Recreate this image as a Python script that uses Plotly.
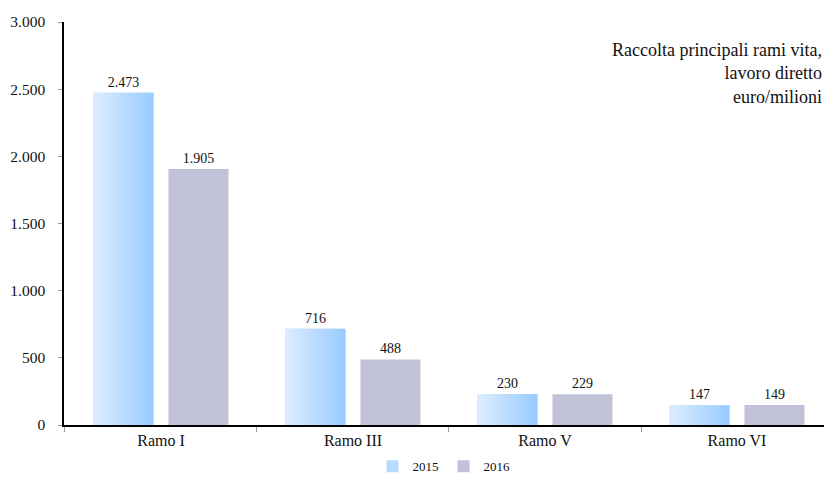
import plotly.graph_objects as go

categories = ["Ramo I", "Ramo III", "Ramo V", "Ramo VI"]
values_2015 = [2473, 716, 230, 147]
values_2016 = [1905, 488, 229, 149]
series_names = ["2015", "2016"]
y_ticks = [0, 500, 1000, 1500, 2000, 2500, 3000]
note_lines = ["Raccolta principali rami vita,", "lavoro diretto", "euro/milioni"]

FONT = "Liberation Serif"
PX_PER_CAT = 192.0
BAR_W = 60 / PX_PER_CAT
OFF_2015 = -67.5 / PX_PER_CAT
OFF_2016 = 7.5 / PX_PER_CAT

c_left = (220, 236, 255)
c_right = (153, 204, 255)
c_2016 = "#c1c1d7"

fig = go.Figure()

fig.add_trace(go.Bar(
    x=categories, y=values_2015, name=series_names[0],
    offset=OFF_2015, width=BAR_W,
    marker=dict(color="rgb(184,219,255)", line=dict(width=0)),
    texttemplate="%{y:,d}", textposition="outside",
    textfont=dict(family=FONT, size=14, color="#111"),
    cliponaxis=False,
))

N = 30
sw = BAR_W / N
for i in range(N):
    t = i / (N - 1)
    col = "rgb(%d,%d,%d)" % tuple(round(a + (b - a) * t) for a, b in zip(c_left, c_right))
    fig.add_trace(go.Bar(
        x=categories, y=values_2015, showlegend=False, hoverinfo="skip",
        offset=OFF_2015 + i * sw, width=sw * 1.4 if i < N - 1 else sw,
        marker=dict(color=col, line=dict(width=0)),
    ))

fig.add_trace(go.Bar(
    x=categories, y=values_2016, name=series_names[1],
    offset=OFF_2016, width=BAR_W,
    marker=dict(color=c_2016, line=dict(width=0)),
    texttemplate="%{y:,d}", textposition="outside",
    textfont=dict(family=FONT, size=14, color="#111"),
    cliponaxis=False,
))

fig.add_annotation(
    xref="paper", yref="paper", x=1.0, y=0.96, xanchor="right", yanchor="top",
    text="<br>".join(note_lines), align="right", showarrow=False,
    font=dict(family=FONT, size=18, color="#111"),
)

fig.update_layout(
    width=824, height=500,
    margin=dict(l=64, r=0, t=22, b=75),
    paper_bgcolor="white", plot_bgcolor="white",
    barmode="overlay",
    separators=",.",
    font=dict(family=FONT, color="#111"),
    showlegend=True,
    legend=dict(orientation="h", x=0.5, xanchor="center", y=-0.065, yanchor="top",
                font=dict(family=FONT, size=13, color="#111"),
                itemwidth=30, traceorder="normal"),
    xaxis=dict(
        range=[-0.505, 3.453], showgrid=False, showline=True, linecolor="black", linewidth=1.5,
        ticks="outside", tickson="boundaries", ticklen=5, tickcolor="#999",
        tickfont=dict(family=FONT, size=16, color="#111"), fixedrange=True,
    ),
    yaxis=dict(
        range=[0, 3000], tickvals=y_ticks, tickformat=",d", showgrid=False,
        showline=True, linecolor="black", linewidth=1.5,
        ticks="outside", ticklen=4, tickcolor="#999", ticklabelstandoff=10,
        tickfont=dict(family=FONT, size=15.5, color="#111"), zeroline=False,
    ),
)

fig.write_html("out.html")
